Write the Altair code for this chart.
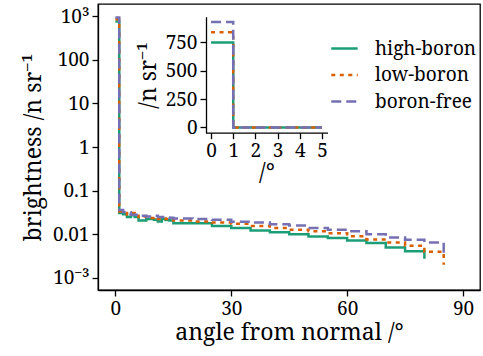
import altair as alt
import pandas as pd

# angle bin starts (degrees)
angles = [0, 1, 2, 3, 4, 5, 6, 7, 8, 9, 10, 11, 12, 13, 14, 15,
          20, 25, 30, 35, 40, 45, 50, 55, 60, 65, 70, 75, 80, 85]

high_boron = [750, 0.0306, 0.0290, 0.0248, 0.0275, 0.0248, 0.0207, 0.0207, 0.0223, 0.0223,
              0.0215, 0.0196, 0.0223, 0.0212, 0.0207, 0.0180,
              0.0180, 0.0156, 0.0139, 0.0122, 0.0112, 0.0101, 0.0089, 0.0082, 0.0072,
              0.0063, 0.0050, 0.0041, 0.00275]

low_boron = [840, 0.0333, 0.0306, 0.0284, 0.0306, 0.0265, 0.0248, 0.0257, 0.0248, 0.0236,
             0.0243, 0.0223, 0.0230, 0.0223, 0.0215, 0.0207,
             0.0196, 0.0186, 0.0175, 0.0156, 0.0140, 0.0128, 0.0117, 0.0106, 0.0090,
             0.0076, 0.0065, 0.0055, 0.0040, 0.0020]

boron_free = [930, 0.0360, 0.0323, 0.0320, 0.0279, 0.0280, 0.0265, 0.0265, 0.0257, 0.0257,
              0.0265, 0.0248, 0.0248, 0.0243, 0.0240, 0.0231,
              0.0223, 0.0215, 0.0195, 0.0186, 0.0171, 0.0160, 0.0140, 0.0128, 0.0117,
              0.0100, 0.0085, 0.0075, 0.0065, 0.0034]

series_names = ["high-boron", "low-boron", "boron-free"]
series_colors = ["#1b9e77", "#d95f02", "#7570b3"]
series_dashes = [[1, 0], [4, 4.5], [10, 5]]

y_ticks = [1e-3, 1e-2, 1e-1, 1, 10, 100, 1000]
x_ticks = [0, 30, 60, 90]
inset_x_ticks = [0, 1, 2, 3, 4, 5]
inset_y_ticks = [0, 250, 500, 750]

rows = []
for name, vals in zip(series_names, [high_boron, low_boron, boron_free]):
    for i, v in enumerate(vals):
        rows.append({"angle": angles[i], "brightness": v, "series": name, "order": i})
df = pd.DataFrame(rows)
df_inset = df[df["angle"] <= 5]

FONT = "Noto Serif"
LABEL_SIZE = 19
TITLE_SIZE = 23

legend_kw = dict(title=None, orient="none", legendX=232, legendY=30,
                 symbolType="stroke", symbolSize=700, symbolStrokeWidth=2.5,
                 labelFontSize=LABEL_SIZE, labelFont=FONT, labelColor="black", labelOffset=16,
                 rowPadding=1.5, padding=0)

color = alt.Color("series:N", scale=alt.Scale(domain=series_names, range=series_colors),
                  legend=alt.Legend(**legend_kw))
dash = alt.StrokeDash("series:N", scale=alt.Scale(domain=series_names, range=series_dashes),
                      legend=alt.Legend(**legend_kw))


def ax(**kw):
    base = dict(labelFont=FONT, titleFont=FONT, labelFontSize=LABEL_SIZE, titleFontSize=TITLE_SIZE,
                titleFontWeight="normal", labelColor="black", titleColor="black",
                grid=False, domainColor="black", domainWidth=1.3, tickColor="black",
                tickWidth=1.3, tickSize=6, labelPadding=3, labelFlush=False, labelOverlap=False)
    base.update(kw)
    return alt.Axis(**base)


main = alt.Chart(df).mark_line(interpolate="step-after", strokeWidth=2.5).encode(
    x=alt.X("angle:Q", scale=alt.Scale(domain=[-4.5, 94.4], nice=False, zero=False),
            axis=ax(values=x_ticks, title="angle from normal /°", format="d", titlePadding=3)),
    y=alt.Y("brightness:Q", scale=alt.Scale(type="log", domain=[10 ** -3.275, 10 ** 3.275], nice=False),
            axis=ax(values=y_ticks, title="brightness /n sr⁻¹", format="~g",
                    labelExpr="datum.value > 999 ? '10³' : (datum.value < 0.0015 ? '10⁻³' : datum.label)",
                    titlePadding=7)),
    color=color,
    strokeDash=dash,
    order="order:Q",
    detail="series:N",
)

inset = alt.Chart(df_inset).mark_line(interpolate="step-after", strokeWidth=2.5).encode(
    x=alt.X("angle:Q", scale=alt.Scale(domain=[-0.25, 5.25], nice=False, zero=False, range=[107.5, 229.5]),
            axis=ax(values=inset_x_ticks, title="/°", orient="bottom", offset=-157.3,
                    titlePadding=1, format="d")),
    y=alt.Y("brightness:Q", scale=alt.Scale(domain=[-46.5, 976.5], nice=False, zero=False, range=[128.7, 12.7]),
            axis=ax(values=inset_y_ticks, title="/n sr⁻¹", orient="left", offset=-108, titlePadding=5)),
    color=alt.Color("series:N", scale=alt.Scale(domain=series_names, range=series_colors), legend=None),
    strokeDash=alt.StrokeDash("series:N", scale=alt.Scale(domain=series_names, range=series_dashes), legend=None),
    order="order:Q",
    detail="series:N",
)

chart = alt.layer(main, inset).resolve_scale(
    x="independent", y="independent"
).properties(
    width=382, height=286,
    autosize=alt.AutoSizeParams(type="none"),
    padding={"left": 98, "top": 4, "right": 3, "bottom": 66},
).configure_view(
    stroke="black", strokeWidth=1.3
)

chart.save("out.html", embed_options={"renderer": "svg", "actions": False})
